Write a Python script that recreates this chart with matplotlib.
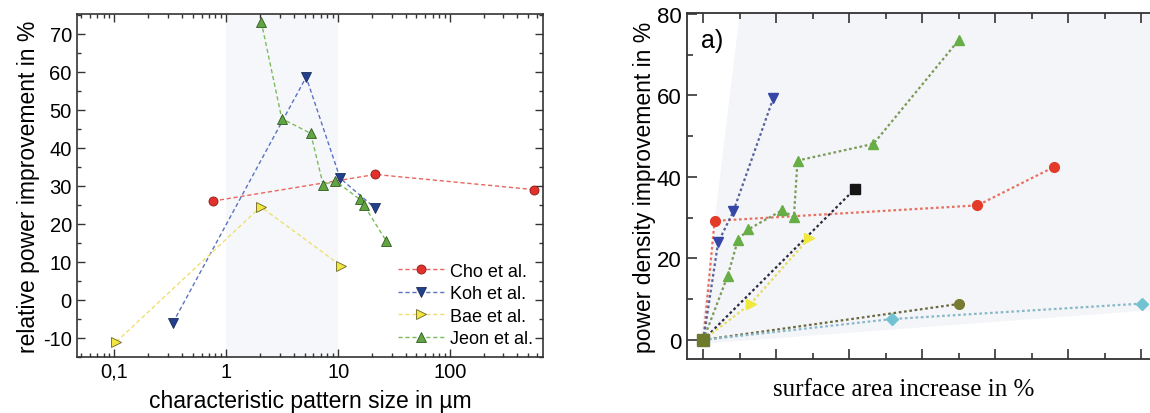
import numpy as np
import matplotlib
matplotlib.use("Agg")
import matplotlib.pyplot as plt
from matplotlib.ticker import MultipleLocator, FixedLocator, NullFormatter, FuncFormatter

plt.rcParams['font.family'] = ['Liberation Sans', 'DejaVu Sans']
plt.rcParams['axes.unicode_minus'] = False

# left panel: relative power improvement vs. characteristic pattern size
cho_size = [0.76, 21.5, 567]
cho_gain = [26, 33, 29]
koh_size = [0.333, 5.17, 10.4, 21.5]
koh_gain = [-6, 58.6, 32, 24.1]
bae_size = [0.104, 2.03, 10.6]
bae_gain = [-11, 24.5, 9]
jeon_size = [2.05, 3.13, 5.67, 7.34, 9.44, 15.5, 17.0, 27.0]
jeon_gain = [73.2, 47.7, 43.8, 30.3, 31.3, 26.5, 24.9, 15.4]
shade_range = [1, 10]

# right panel: power density improvement vs. surface area increase
r_koh_x = [0, 4.05, 8.2, 19.2]
r_koh_y = [0, 23.9, 31.5, 59.4]
r_cho_x = [0, 3.07, 75.1, 96.0]
r_cho_y = [0, 29.2, 33.0, 42.4]
r_jeon_x = [0, 6.66, 9.5, 12.3, 21.6, 24.8, 25.8, 46.6, 69.9]
r_jeon_y = [0, 15.7, 24.6, 27.1, 31.8, 30.1, 44.0, 48.1, 73.5]
r_black_x = [0, 41.6]
r_black_y = [0, 37.1]
r_bae_x = [0, 13.0, 29.0]
r_bae_y = [0, 8.9, 25.0]
r_olive_x = [0, 69.9]
r_olive_y = [0, 8.8]
r_cyan_x = [0, 51.6, 120.1]
r_cyan_y = [0, 5.1, 8.9]
# shaded wedge (outline of the grey region)
wedge_x = [-1, 10, 126, 126]
wedge_y = [-1, 80.2, 80.2, 7.5]

fig = plt.figure(figsize=(11.5, 4.14), dpi=100)

# ---------------- left panel ----------------
ax = fig.add_axes([0.0667, 0.1353, 0.4057, 0.8285])
ax.axvspan(shade_range[0], shade_range[1], color='#f6f7fb', zorder=0, lw=0)

series = [
    ('Cho et al.', cho_size, cho_gain, 'o', 6.5, '#e2312b', '#8a1a16', '#e8665e'),
    ('Koh et al.', koh_size, koh_gain, 'v', 7, '#23408c', '#1a2a5a', '#5a72c0'),
    ('Bae et al.', bae_size, bae_gain, '>', 7, '#f3e640', '#6a6424', '#eee070'),
    ('Jeon et al.', jeon_size, jeon_gain, '^', 7, '#62a442', '#2f5a20', '#7cbc5c'),
]
handles = []
for label, xs, ys, mk, ms, fc, ec, lc in series:
    ax.plot(xs, ys, ls=(0, (3, 2)), color=lc, lw=1, zorder=2)
    ax.plot(xs, ys, ls='none', marker=mk, ms=ms, mfc=fc, mec=ec, mew=0.6, zorder=3)
    h, = ax.plot([], [], ls=(0, (3, 2)), color=lc, lw=1, marker=mk, ms=ms,
                 mfc=fc, mec=ec, mew=0.6, label=label)
    handles.append(h)

ax.set_xscale('log')
ax.set_xlim(0.046, 680)
ax.set_ylim(-15, 75.2)
ax.set_xticks([0.1, 1, 10, 100])
ax.xaxis.set_major_formatter(FuncFormatter(lambda v, p: '0,1' if v < 0.5 else '%d' % v))
ax.xaxis.set_minor_locator(FixedLocator(
    [m * 10.0 ** e for e in range(-2, 3) for m in range(2, 10)]))
ax.xaxis.set_minor_formatter(NullFormatter())
ax.set_yticks(np.arange(-10, 71, 10))
ax.yaxis.set_minor_locator(MultipleLocator(5))
ax.tick_params(which='both', direction='in', top=True, right=True, labelsize=14.5,
               width=1, color='#333333')
ax.tick_params(which='major', length=6)
ax.tick_params(which='minor', length=3)
for s in ax.spines.values():
    s.set_linewidth(1.2)
    s.set_color('#333333')
ax.set_xlabel('characteristic pattern size in µm', fontsize=16.5, labelpad=6)
ax.set_ylabel('relative power improvement in %', fontsize=16.5, labelpad=2)
ax.legend(handles=handles, loc='lower right', bbox_to_anchor=(1.0, 0.0),
          frameon=False, fontsize=13, handlelength=2.6, handletextpad=0.3,
          labelspacing=0.3, borderaxespad=0.15)

# ---------------- right panel ----------------
ax2 = fig.add_axes([0.597, 0.1304, 0.4117, 0.8357])
ax2.fill(wedge_x, wedge_y, color='#f4f5f8', lw=0, zorder=0)

right_series = [
    (r_cho_x, r_cho_y, 'o', '#e43a28', '#e87060'),
    (r_koh_x, r_koh_y, 'v', '#3646a8', '#56629a'),
    (r_jeon_x, r_jeon_y, '^', '#68ae46', '#7a9a58'),
    (r_black_x, r_black_y, 's', '#151515', '#2a2a40'),
    (r_bae_x, r_bae_y, '>', '#f0e83a', '#e6dc60'),
    (r_olive_x, r_olive_y, 'o', '#767a32', '#6a6a40'),
    (r_cyan_x, r_cyan_y, 'D', '#72c2d2', '#8ab8c8'),
]
for xs, ys, mk, fc, lc in right_series:
    ax2.plot(xs, ys, ls=(0, (1.2, 1.2)), color=lc, lw=1.6, zorder=2)
    ax2.plot(xs[1:], ys[1:], ls='none', marker=mk,
             ms=7 if mk != 'D' else 6, mfc=fc, mec=fc, zorder=3)
ax2.plot(r_olive_x[:1], r_olive_y[:1], ls='none', marker='s', ms=8,
         mfc='#6e7a2c', mec='#6e7a2c', zorder=4)

ax2.set_xlim(-4.6, 125.1)
ax2.set_ylim(-4.7, 80.2)
ax2.xaxis.set_major_locator(MultipleLocator(20))
ax2.xaxis.set_minor_locator(MultipleLocator(10))
ax2.xaxis.set_major_formatter(NullFormatter())
ax2.yaxis.set_major_locator(MultipleLocator(20))
ax2.yaxis.set_minor_locator(MultipleLocator(10))
ax2.tick_params(which='both', direction='in', top=True, right=True, labelsize=16,
                width=1.2, color='#333333')
ax2.tick_params(which='major', length=7)
ax2.tick_params(which='minor', length=4)
for s in ax2.spines.values():
    s.set_linewidth(1.3)
    s.set_color('#333333')
ax2.set_ylabel('power density improvement in %', fontsize=16.5, labelpad=1)
ax2.text(2.4, 73.5, 'a)', fontsize=18, ha='center', va='center')
fig.text(0.7857, 0.058, 'surface area increase in %', fontsize=18,
         family=['Liberation Serif', 'DejaVu Serif'], ha='center', va='center')

fig.savefig('out.png', dpi=100)
